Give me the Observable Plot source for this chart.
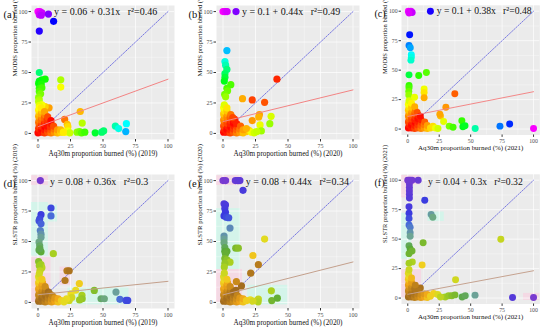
<!DOCTYPE html>
<html><head><meta charset="utf-8">
<script src="https://cdn.jsdelivr.net/npm/d3@7"></script>
<script src="https://cdn.jsdelivr.net/npm/@observablehq/plot@0.6"></script>
<style>
body{margin:0;background:#fff}
#wrap{position:relative;width:550px;height:331px;overflow:hidden;background:#fff}
.panel{position:absolute}
</style></head><body><div id="wrap"></div>
<script>
const panelLetters = ["(a)","(b)","(c)","(d)","(e)","(f)"];
const sensors = ["MODIS","MODIS","MODIS","SLSTR","SLSTR","SLSTR"];
const years = ["2019","2020","2021","2019","2020","2021"];
const eqIntercept = ["0.06","0.1","0.1","0.08","0.08","0.04"];
const eqSlope = ["0.31","0.44","0.38","0.36","0.44","0.3"];
const r2 = ["0.46","0.49","0.48","0.3","0.34","0.32"];
const fitIntercept = [5.5, 9.7, 10.7, 6.3, 6.2, 3.2];
const fitSlope = [0.39, 0.26, 0.21, 0.11, 0.27, 0.20];
const eqX = [12.3, 14.6, 23, 9.2, 17.5, 16];
const eqY = [100, 100, 100, 99, 99, 99];
const ticks = [0, 25, 50, 75, 100];
const minorTicks = [12.5, 37.5, 62.5, 87.5];

// [Aq30m %, sensor %]
const pointsA = [
  [0,100],[1.5,100],[3,99],[1,97.5],[2.5,97],[8,98],[12,92],[1,84],[1,50],
  [1,43],[3,44],[5.5,44.5],[0.5,41],[2.5,40.5],[1,37],[3,37.5],[1,34.5],[2,32.5],[0.5,29.5],[1,27.5],[0.5,26],
  [17.5,44],[17.5,38],[8.5,21],[5.5,22],[3,23.5],[1,23],
  [20.5,11.5],[22.5,7.5],[23,5.5],[32.5,18],[34,8.5],
  [21,1],[23,2],[24.5,0.5],[30,1],[32,1.5],[33.5,0.5],[36,1],[44,0.5],[49,1],[50.5,2],
  [59.5,6],[62,4],[68,8],[67.5,1.5],
  [0,0.5],[1,2],[0.5,4],[1,6.5],[0.5,9],[1,11.5],[0.5,14],[1,16.5],[0.5,19],[1,21],
  [2.5,1],[3,3.5],[2.5,6],[3,8.5],[2.5,11],[3,13.5],[2.5,16],[3,18.5],[2.5,21],
  [5,0.5],[5,3],[5.5,5.5],[5,8],[5.5,10.5],[5,13],[5.5,15.5],[5,18],
  [7.5,1],[7.5,3.5],[7,6],[7.5,8.5],[7,11],[7.5,13.5],
  [10,0.5],[10,3],[9.5,5.5],[10,8],[10,10.5],
  [12.5,1],[12.5,3.5],[12,6],[15,0.5],[15,3],[17.5,1],[17.5,3],[19.5,1]
];
const pointsB = [
  [0,100],[1.2,100],[2.2,100],[3.2,100],[10,100],[3,68],
  [1.5,59],[2,56],[3,52.5],[1.5,49],[1.5,46],[1,43],[6,40],[3,37],[3.5,35],[1.3,32],[2,30],
  [15,28.5],[22.5,27.5],[41.5,44.5],[32,25.5],[28,15.5],[27.5,13.5],[37,14],[22.5,10.5],[28.5,7],[36,8],[29.5,2],
  [18,1.5],[20,2.5],[22,1],[24,0.5],[26,1.5],[9,11.5],
  [0.5,1],[1,3.5],[0.5,6],[1,8.5],[0.5,11],[1,13.5],[0.5,16],[1,18.5],[0.5,21],[1,23.5],
  [3,1],[3,3.5],[3.5,6],[3,8.5],[3.5,11],[3,13.5],[3.5,16],[3,18.5],[3,21],
  [5.5,0.5],[5.5,3],[6,5.5],[5.5,8],[6,10.5],[5.5,13],[6,15.5],
  [8,1],[8,3.5],[8.5,6],[8,8.5],[8.5,10.5],[7.5,13],
  [10.5,0.5],[10.5,3],[11,5.5],[10.5,8],
  [13,1],[13,3.5],[13.5,6],[15.5,0.5],[15.5,3],[18,4]
];
const pointsC = [
  [0.5,100],[1.5,99.5],[2.5,100],[3.5,99],[1,98.5],[18,100],
  [1.5,80],[1,71],[2,69],[2.8,63],[2.8,61],[2.5,58.5],
  [1,46],[8.7,45.5],[14.8,48],
  [1,37],[1,35],[0.8,32],[0.8,29],[5.4,27],[13,34],[13,31],[13,26.5],
  [37.4,30],[30.3,18.5],[26,11],[25.5,12.5],[28.5,6.5],
  [33,2.5],[36,1.5],[43,7],[43.8,2],[45.5,2.8],
  [53.6,0.5],[73.3,2.5],[81,4.3],[100,0.5],
  [0.5,1],[1,3.5],[0.5,6],[1,8.5],[0.5,11],[1,13.5],[0.5,16],[1,18.5],[0.5,21],[1,24],
  [3,1],[3,3.5],[3.5,6],[3,8.5],[3.5,11],[3,13.5],[3.5,16],[3,18.5],[3,22],
  [5.5,0.5],[5.5,3],[6,5.5],[5.5,8],[6,10.5],[5.5,13],[6,15.5],[5.5,19],
  [8,1],[8,3.5],[8.5,6],[8,9],[8.5,11.5],[7.5,14],
  [10.5,0.5],[10.5,3],[11,5.5],[10.5,8],[10,11],
  [13,1],[13,3.5],[13.5,6],[15.5,0.5],[15.5,3],[18,1],[20,2.5],[22,1],[24,0.5]
];
const pointsD = [
  [1.8,100],[10,77.5],[10,71],[2.3,72],[1.3,68.5],[0.8,67],[2.3,64.5],
  [1.8,59],[2.3,56],[2.3,53.5],[0.8,49.5],[1.3,46.5],[0.8,43],[2.3,41.5],[1.5,44],
  [11.8,40],[0.5,33.5],[2.3,31],[3,28.5],[1,30],[1.5,26],
  [22.3,26],[24,26],[20.8,18],
  [31.8,15.5],[29,10],[25.4,7],[43.3,9.8],[33.8,5.7],[34,3],[32,2],
  [48.5,3],[51,3],[60,8.5],[63,2.5],[67.7,1.6],[69,1.6],[24,1.6],[26,4],[22,3],
  [0.5,1],[1,3.5],[0.5,6],[1,8.5],[0.5,11],[1,13.5],[0.5,16],[1,18.5],[0.5,21],[1,23.5],
  [3,1],[3,3.5],[3.5,6],[3,8.5],[3.5,11],[3,13.5],[3.5,16],[3,19],
  [5.5,0.5],[5.5,3],[6,5.5],[5.5,8],[6,10.5],[5.5,13],
  [8,1],[8,3.5],[8.5,6],[8,8.5],[9,7],
  [10.5,0.5],[10.5,3],[11,5.5],[13,1],[13,3.5],[15.5,0.5],[15.5,3],[18,1.5],[20,0.5]
];
const pointsE = [
  [0,100],[2,100],[9.5,100],[11,100],[12,100],[13,100],[15.4,92],
  [0.8,81],[1.9,80],[1.4,77],[1.9,74],[0.8,71],[2.6,70],[4.4,69.5],[5.4,61],
  [0.8,54.5],[0.8,52],[0.8,49],[1.4,45],[1.4,42],[3,42],[1.9,40],[1.4,36],[3,35],[5.4,33],[1.4,32],[1,29],
  [9.8,44.5],[11.8,44.5],
  [32,52],[23,38.5],[27.2,31],[21.3,24],[14.2,13.5],[10.3,17],
  [37.2,9.5],[37.5,1.5],[41.8,3.5],[27.2,2.7],[27,0.5],[21,2],[23,1],
  [0.5,1],[1,3.5],[0.5,6],[1,8.5],[0.5,11],[1,13.5],[0.5,16],[1,18.5],[0.5,21],[1,24],
  [3,1],[3,3.5],[3.5,6],[3,8.5],[3.5,11],[3,13.5],[3.5,16],[3,19],
  [5.5,0.5],[5.5,3],[6,5.5],[5.5,8],[6,10.5],[5.5,13],
  [8,1],[8,3.5],[8.5,6],[8,8.5],[10,10],
  [10.5,0.5],[10.5,3],[11,5.5],[13,1],[13,3.5],[15.5,0.5],[15.5,3],[18,1.5]
];
const pointsF = [
  [0,100],[1,100],[2,100],[3.4,100],[8.3,100],
  [1.3,97],[1.3,94],[1.3,91],[1.3,88],[1.3,85],[13.5,83],
  [1,77.5],[1,72],[1,67.5],[1,62],[1.9,60],[1.9,55.5],[1.9,52.5],
  [18.6,71],[19.9,68.5],
  [1,44.5],[1.9,41.7],[3.4,40],[1,37.7],[12.2,47],
  [3.6,30.7],[1,29.5],[11.4,28],
  [74,50],[38,15.6],[10,8.5],
  [29.8,1],[32.5,2],[35,2],[37.5,2.7],[43.2,1],[45.7,2],[53.5,2.5],
  [20.5,3.8],[23.8,3],[26,1],[83.3,0.5],[100,0.5],
  [0.5,1],[1,3.5],[0.5,6],[1,8.5],[0.5,11],[1,13.5],[0.5,16],[1,18.5],[0.5,21],[1,24],
  [3,1],[3,3.5],[3.5,6],[3,8.5],[3.5,11],[3,13.5],[3,17],
  [5.5,0.5],[5.5,3],[6,5.5],[5.5,8],[6,11],
  [8,1],[8,3.5],[8.5,6],[10.5,0.5],[10.5,3],[13,1],[13,3.5],[15.5,0.5],[15.5,3],[18,1.5]
];
const allPoints = [pointsA, pointsB, pointsC, pointsD, pointsE, pointsF];

// background shading in lower panels: [x1, x2, y1, y2, kind]
const shadeD = [[-5,8,96,104,"p"],[-5,8,38,82,"c"],[8,15,66,80,"c"],[-5,10,0,37,"p"],[17,26,14,29,"p"],[23,70,-2,12,"c"]];
const shadeE = [[-5,15,96,104,"p"],[-5,13.5,27,77,"c"],[-5,15,0,27,"p"],[19,50,-2,14,"c"]];
const shadeF = [[-5,3,85,104,"p"],[3,10,96,104,"p"],[-5,3,33,72,"c"],[16,29,65,73,"c"],[-5,11,0,25,"p"],[28,56,-1,4,"c"],[92,105,-2,4,"p"]];
const allShades = [[], [], [], shadeD, shadeE, shadeF];

const topPalette = ["#ff0000","#ffff00","#00ff00","#00ffff","#0000ff","#ff00ff"];
const topStops = [0,20,40,60,80,100];
const lowPalette = ["#a06a1e","#c4861c","#f0a418","#f0dc20","#a8d020","#58a838","#70a890","#4a70d8","#3a3ae0","#7a3ad0"];
const lowStops = [0,6,12,18,28,40,50,60,70,100];

const lefts = [0, 185, 371];
const tops = [0, 169];
const font = "'Liberation Serif','Times New Roman',serif";

function makePanel(i) {
  const lower = i >= 3;
  const data = allPoints[i].map(([x, y]) => ({x, y, diff: Math.abs(y - x)}));
  const fit = [0, 100].map(x => ({x, y: fitIntercept[i] + fitSlope[i] * x}));
  const diag = [0, 100].map(v => ({x: v, y: v}));
  const shades = allShades[i];
  const eq = `y = ${eqIntercept[i]} + ${eqSlope[i]}x\u00a0\u00a0\u00a0r\u00b2=${r2[i]}`;
  return Plot.plot({
    width: 185, height: 163,
    marginLeft: 31, marginRight: 11, marginTop: 5, marginBottom: 24,
    style: {fontFamily: font, background: "transparent", overflow: "visible"},
    x: {domain: [-5, 105], axis: null},
    y: {domain: [-5, 105], axis: null},
    color: {type: "linear", domain: lower ? lowStops : topStops, range: lower ? lowPalette : topPalette, interpolate: "rgb"},
    marks: [
      Plot.frame({fill: "#ebebeb", stroke: "none"}),
      Plot.rect(shades.filter(d => d[4] === "p"), {x1: d => d[0], x2: d => d[1], y1: d => d[2], y2: d => d[3], fill: "#ffc4dc", fillOpacity: 0.45}),
      Plot.rect(shades.filter(d => d[4] === "c"), {x1: d => d[0], x2: d => d[1], y1: d => d[2], y2: d => d[3], fill: "#b8ffe8", fillOpacity: 0.45}),
      Plot.ruleX(minorTicks, {stroke: "#fff", strokeWidth: 0.35}),
      Plot.ruleY(minorTicks, {stroke: "#fff", strokeWidth: 0.35}),
      Plot.ruleX(ticks, {stroke: "#fff", strokeWidth: 0.7}),
      Plot.ruleY(ticks, {stroke: "#fff", strokeWidth: 0.7}),
      Plot.line(diag, {x: "x", y: "y", stroke: "#4646dc", strokeWidth: 0.7, strokeDasharray: "1.6,1.4"}),
      Plot.dot(data, {x: "x", y: "y", r: 3.6, fill: "diff", stroke: "none"}),
      Plot.line(fit, {x: "x", y: "y", stroke: lower ? "#c4a08c" : "#f38484", strokeWidth: 1}),
      Plot.text([eq], {x: eqX[i], y: eqY[i], text: d => d, textAnchor: "start", fontSize: 10, fill: "#111"}),
      Plot.text([panelLetters[i]], {frameAnchor: "top-left", dx: -28, dy: 5, text: d => d, textAnchor: "start", fontSize: 10.5, fill: "#111"}),
      Plot.axisX({ticks, tickSize: 2.5, tickPadding: 1.5, fontSize: 6, fill: "#4d4d4d", stroke: "#333", label: null}),
      Plot.axisY({ticks, tickSize: 2.5, tickPadding: 1.5, fontSize: 6, fill: "#4d4d4d", stroke: "#333", label: null}),
      Plot.text([`Aq30m proportion burned (%) (${years[i]})`], {frameAnchor: "bottom", dy: 16, text: d => d, fontSize: 7.2, fill: "#111"}),
      Plot.text([`${sensors[i]} proportion burned (%) (${years[i]})`], {frameAnchor: "left", dx: -17, dy: 4, rotate: -90, text: d => d, fontSize: 6.7, fill: "#111"})
    ]
  });
}

const wrap = document.getElementById("wrap");
for (let i = 0; i < 6; i++) {
  const div = document.createElement("div");
  div.className = "panel";
  div.style.left = lefts[i % 3] + "px";
  div.style.top = tops[Math.floor(i / 3)] + "px";
  div.appendChild(makePanel(i));
  wrap.appendChild(div);
}
</script></body></html>
